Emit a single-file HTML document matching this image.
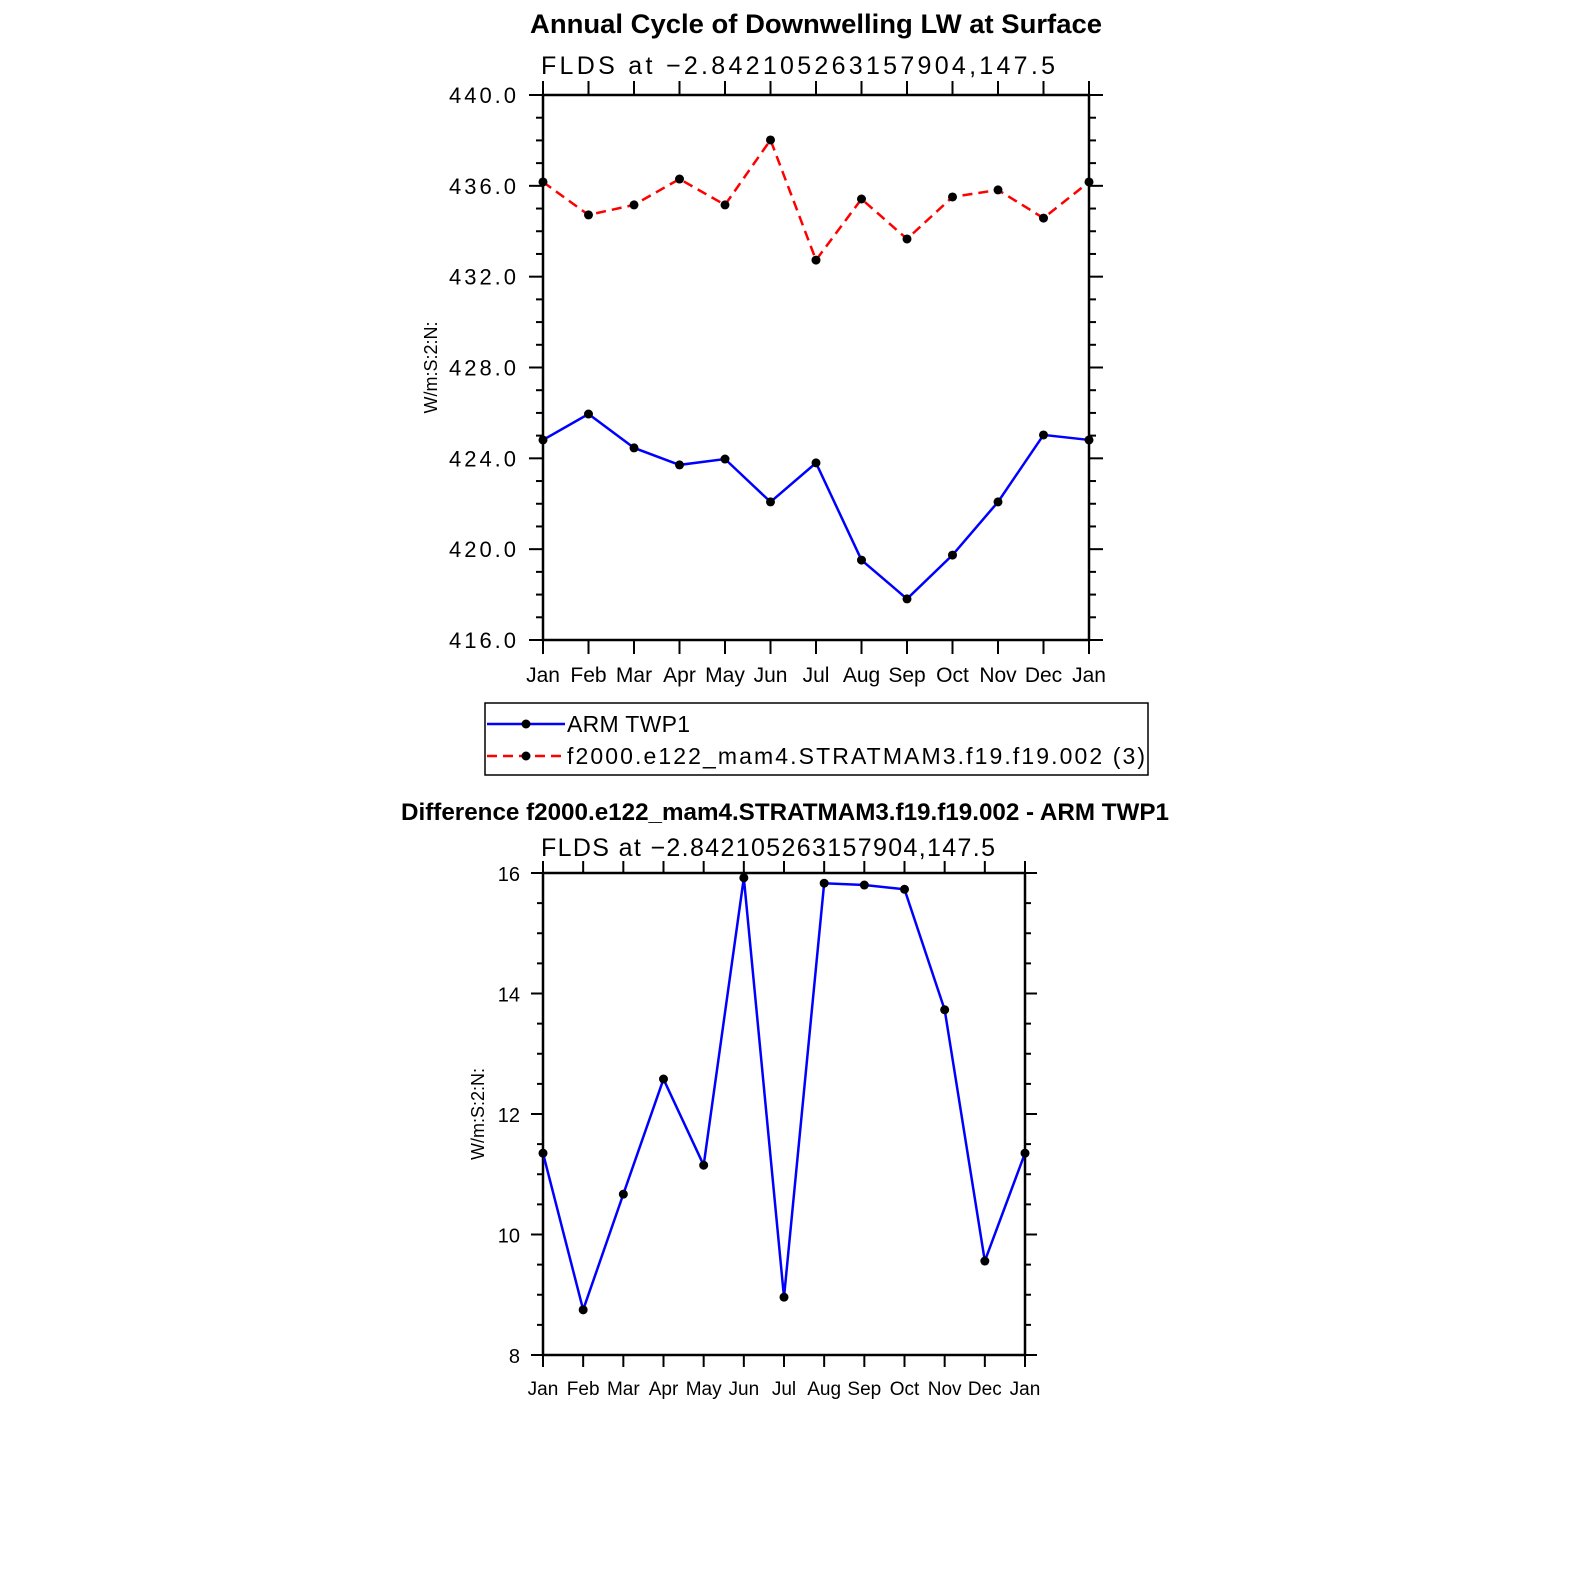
<!DOCTYPE html>
<html><head><meta charset="utf-8"><style>
html,body{margin:0;padding:0;background:#fff;}
svg{display:block;font-family:"Liberation Sans",sans-serif;}
</style></head><body>
<svg id="s" width="1574" height="1574" viewBox="0 0 1574 1574" xmlns="http://www.w3.org/2000/svg">
<text x="816" y="33" font-size="27" font-weight="bold" text-anchor="middle" textLength="572" lengthAdjust="spacingAndGlyphs">Annual Cycle of Downwelling LW at Surface</text>
<text x="541" y="74" font-size="25" textLength="514" lengthAdjust="spacing">FLDS at −2.842105263157904,147.5</text>
<text x="785" y="820" font-size="24" font-weight="bold" text-anchor="middle" textLength="768" lengthAdjust="spacingAndGlyphs">Difference f2000.e122_mam4.STRATMAM3.f19.f19.002 - ARM TWP1</text>
<text x="541" y="856" font-size="25" textLength="454" lengthAdjust="spacing">FLDS at −2.842105263157904,147.5</text>
<g id="top"></g>
<g id="bot"></g>
<g>
<rect x="485" y="703" width="663" height="72" fill="none" stroke="#000" stroke-width="1.5"/>
<g>
<line x1="487" y1="724" x2="565" y2="724" stroke="#0000ff" stroke-width="2.5"/>
<circle cx="526" cy="724" r="4.5" fill="#000"/>
<text x="567" y="732" font-size="23" textLength="123" lengthAdjust="spacing">ARM TWP1</text></g>
<g>
<line x1="487" y1="756" x2="565" y2="756" stroke="#ff0000" stroke-width="2.5" stroke-dasharray="10,6"/>
<circle cx="526" cy="756" r="4.5" fill="#000"/>
<text x="567" y="764" font-size="23" textLength="578" lengthAdjust="spacing">f2000.e122_mam4.STRATMAM3.f19.f19.002 (3)</text></g>
</g>
</svg>
<script>
const months=["Jan","Feb","Mar","Apr","May","Jun","Jul","Aug","Sep","Oct","Nov","Dec","Jan"];
const armValues=[424.81,425.95,424.46,423.71,423.97,422.08,423.80,419.52,417.81,419.74,422.08,425.03,424.81];
const modelValues=[436.17,434.72,435.16,436.30,435.16,438.02,432.73,435.42,433.66,435.51,435.82,434.58,436.17];
const diffValues=[11.35,8.75,10.67,12.58,11.15,15.92,8.96,15.83,15.80,15.73,13.73,9.56,11.35];
const topTicks=["416.0","420.0","424.0","428.0","432.0","436.0","440.0"];
const botTicks=["8","10","12","14","16"];
const NS="http://www.w3.org/2000/svg";
function mk(p,t,a){const e=document.createElementNS(NS,t);for(const k in a)e.setAttribute(k,a[k]);p.appendChild(e);return e;}
function plot(g,cfg){
  const {x0,x1,y0,y1,ymin,ymax,major,minor,ticks,fs,xfs,series,maj,mn,lab}=cfg;
  const X=i=>x0+(x1-x0)*i/(months.length-1);
  const Y=v=>y1-(y1-y0)*(v-ymin)/(ymax-ymin);
  const fr=mk(g,'rect',{x:x0,y:y0,width:x1-x0,height:y1-y0,fill:'none',stroke:'#000','stroke-width':2.5});
  
  
  for(let v=ymin;v<=ymax+1e-9;v+=minor){
    const isM=Math.abs((v-ymin)/major-Math.round((v-ymin)/major))<1e-6;
    const l=isM?maj:mn;
    mk(g,'line',{x1:x0-l,y1:Y(v),x2:x0,y2:Y(v),stroke:'#000','stroke-width':2});
    mk(g,'line',{x1:x1,y1:Y(v),x2:x1+l,y2:Y(v),stroke:'#000','stroke-width':2});
  }
  ticks.forEach(t=>{const v=parseFloat(t);
    const a={x:x0-lab,y:Y(v)+8,'font-size':fs,'text-anchor':'end'};
    if(cfg.tl){a.textLength=cfg.tl*t.length/5;a.lengthAdjust='spacing';}
    const e=mk(g,'text',a);e.textContent=t;
    
    });
  months.forEach((m,i)=>{
    mk(g,'line',{x1:X(i),y1:y1,x2:X(i),y2:y1+maj,stroke:'#000','stroke-width':2});
    mk(g,'line',{x1:X(i),y1:y0-maj,x2:X(i),y2:y0,stroke:'#000','stroke-width':2});
    const e=mk(g,'text',{x:X(i),y:y1+maj+28,'font-size':xfs,'text-anchor':'middle'});e.textContent=m;
    
    
  });
  const yt=mk(g,'text',{transform:`translate(${cfg.ytx},${(y0+y1)/2}) rotate(-90)`,'font-size':18,'text-anchor':'middle'});
  yt.textContent='W/m:S:2:N:';
  
  
  series.forEach(s=>{
    const pl=mk(g,'polyline',{points:s.v.map((v,i)=>X(i)+','+Y(v)).join(' '),fill:'none',stroke:s.c,'stroke-width':2.5,'stroke-dasharray':s.d||'none'});
    
    
    s.v.forEach((v,i)=>{const c=mk(g,'circle',{cx:X(i),cy:Y(v),r:4.5,fill:'#000'});
      
      });
  });
}
plot(document.getElementById('top'),{x0:543,x1:1089,y0:95,y1:640,ymin:416,ymax:440,major:4,minor:1,ticks:topTicks,fs:22,xfs:21,maj:14,mn:7,lab:27,tl:67,ytx:437,
  series:[{v:armValues,c:'#0000ff',n:'arm'},{v:modelValues,c:'#ff0000',d:'10,6',n:'model'}]});
plot(document.getElementById('bot'),{x0:543,x1:1025,y0:873,y1:1355,ymin:8,ymax:16,major:2,minor:0.5,ticks:botTicks,fs:20,xfs:19,maj:12,mn:6,lab:23,ytx:484,
  series:[{v:diffValues,c:'#0000ff',n:'diff'}]});
</script>
</body></html>
